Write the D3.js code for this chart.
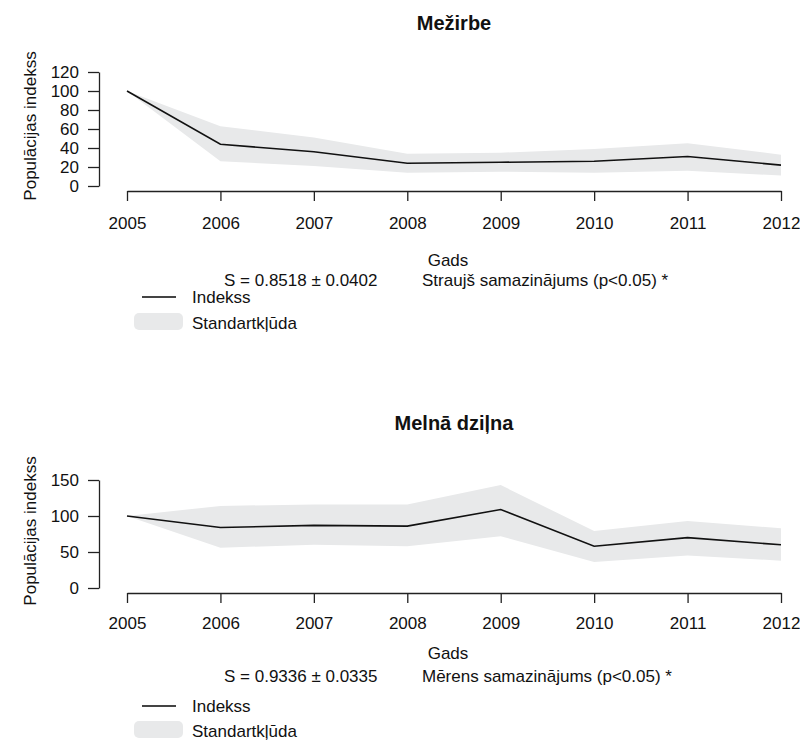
<!DOCTYPE html>
<html lang="lv">
<head>
<meta charset="UTF-8">
<title>Populācijas indekss</title>
<script src="https://d3js.org/d3.v7.min.js"></script>
<style>
  body { margin: 0; background: #fff; }
  svg text { font-family: "Liberation Sans", Arial, sans-serif; fill: #111; }
  .axis path, .axis line { stroke: #222; stroke-width: 1.3; fill: none; }
  .axis text { font-size: 17px; font-family: "Liberation Sans", Arial, sans-serif; fill: #111; }
</style>
</head>
<body>
<svg id="svg" width="800" height="742"></svg>
<script>
// dati
var years = [2005, 2006, 2007, 2008, 2009, 2010, 2011, 2012]

var mezirbeIndex = [100, 44, 36, 24, 25, 26, 31, 22]
var mezirbeUpper = [100, 63, 51, 34, 35, 39, 45, 33]
var mezirbeLower = [100, 26, 21, 14, 15, 14, 16, 11]
var mezirbeTicks = [0, 20, 40, 60, 80, 100, 120]

var melnaIndex = [100, 84, 87, 86, 109, 58, 70, 60]
var melnaUpper = [100, 114, 116, 116, 143, 79, 93, 83]
var melnaLower = [100, 56, 60, 58, 72, 36, 45, 38]
var melnaTicks = [0, 50, 100, 150]

var svg = d3.select('#svg')
var fs = '17px'

// o = teksta pozīcijas (baseline) katram panelim
function panel(o, title, idx, upper, lower, yTicks, sText, trendText) {
  var g = svg.append('g')
  var x = d3.scaleLinear().domain([2005, 2012]).range([127, 781])
  var y = d3.scaleLinear().domain([0, d3.max(yTicks)]).range([o.yBottom, o.yTop])

  var band = years.map(function (yr, i) { return { yr: yr, lo: lower[i], hi: upper[i], v: idx[i] } })

  g.append('path')
    .datum(band)
    .attr('fill', '#e8e9ea')
    .attr('d', d3.area().x(d => x(d.yr)).y0(d => y(d.lo)).y1(d => y(d.hi)))

  g.append('path')
    .datum(band)
    .attr('fill', 'none')
    .attr('stroke', '#111')
    .attr('stroke-width', 1.6)
    .attr('d', d3.line().x(d => x(d.yr)).y(d => y(d.v)))

  // y ass
  g.append('g')
    .attr('class', 'axis')
    .attr('transform', 'translate(99,0)')
    .call(d3.axisLeft(y).tickValues(yTicks).tickSize(11).tickSizeOuter(0).tickPadding(9))

  // x ass
  var xa = g.append('g')
    .attr('class', 'axis')
    .attr('transform', 'translate(0,' + o.xAxis + ')')
    .call(d3.axisBottom(x).tickValues(years).tickFormat(d3.format('d')).tickSize(10).tickSizeOuter(0))
  xa.selectAll('.tick text').attr('y', o.tickLab - o.xAxis).attr('dy', null)

  g.append('text')
    .attr('x', 454).attr('y', o.title)
    .attr('text-anchor', 'middle')
    .attr('font-weight', 'bold')
    .attr('font-size', '20px')
    .text(title)

  g.append('text')
    .attr('transform', 'translate(36,' + ((o.yTop + o.yBottom) / 2 - 3) + ') rotate(-90)')
    .attr('text-anchor', 'middle')
    .attr('font-size', fs)
    .text('Populācijas indekss')

  g.append('text')
    .attr('x', 448).attr('y', o.gads)
    .attr('text-anchor', 'middle')
    .attr('font-size', fs)
    .text('Gads')

  g.append('text')
    .attr('x', 224).attr('y', o.sLine)
    .attr('font-size', fs)
    .text(sText)

  g.append('text')
    .attr('x', 422).attr('y', o.sLine)
    .attr('font-size', fs)
    .text(trendText)

  // leģenda
  g.append('line')
    .attr('x1', 142).attr('x2', 176).attr('y1', o.leg1 - 6).attr('y2', o.leg1 - 6)
    .attr('stroke', '#444').attr('stroke-width', 1.8)
  g.append('text').attr('x', 192).attr('y', o.leg1).attr('font-size', fs).text('Indekss')

  g.append('rect')
    .attr('x', 134).attr('y', o.leg2 - 16).attr('width', 49).attr('height', 17).attr('rx', 5)
    .attr('fill', '#e8e9ea')
  g.append('text').attr('x', 192).attr('y', o.leg2).attr('font-size', fs).text('Standartkļūda')
}

panel({ title: 30, yTop: 72, yBottom: 186, xAxis: 191, tickLab: 229, gads: 266, sLine: 286, leg1: 303, leg2: 329 },
  'Mežirbe', mezirbeIndex, mezirbeUpper, mezirbeLower, mezirbeTicks,
  'S = 0.8518 ± 0.0402', 'Straujš samazinājums (p<0.05) *')
panel({ title: 430, yTop: 480, yBottom: 588, xAxis: 593, tickLab: 629, gads: 659, sLine: 682, leg1: 712, leg2: 737 },
  'Melnā dziļna', melnaIndex, melnaUpper, melnaLower, melnaTicks,
  'S = 0.9336 ± 0.0335', 'Mērens samazinājums (p<0.05) *')
</script>
</body>
</html>
